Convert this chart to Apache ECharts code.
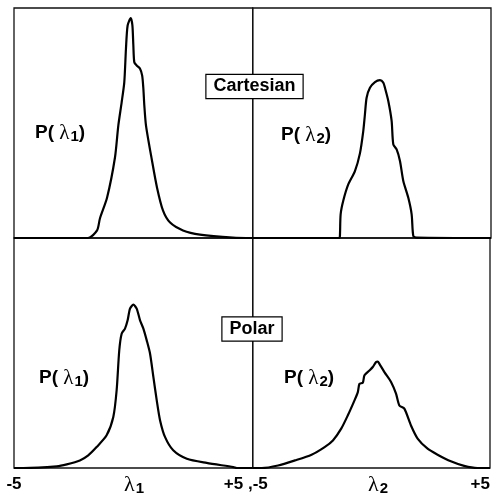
<!DOCTYPE html>
<html>
<head>
<meta charset="utf-8">
<script src="https://cdn.jsdelivr.net/npm/echarts@6/dist/echarts.min.js"></script>
<style>
  html, body { margin: 0; padding: 0; background: #fff; }
  #chart { width: 493px; height: 495px; }
</style>
</head>
<body>
<div id="chart"></div>
<script>
// ---- data ----
const cartesianL1 = [[-5,0],[-1.9,0],[-1.52,3.3],[-1.40,8.5],[-1.10,17.6],[-0.77,35],[-0.63,48.9],[-0.49,59],[-0.38,67.7],[-0.31,82.2],[-0.24,92.4],[-0.11,95.6],[-0.04,92.4],[0.0,83.7],[0.04,76.4],[0.14,75],[0.28,73.6],[0.37,70.6],[0.42,64.9],[0.46,57.6],[0.53,48.9],[0.78,33.7],[0.99,22],[1.24,12],[1.54,6.7],[2.08,3.3],[2.79,1.5],[4.17,0.2],[5,0]];
const cartesianL2 = [[-5,0],[-1.37,0],[-1.34,0.9],[-1.31,10.3],[-1.20,16.2],[-0.99,23.3],[-0.71,29.1],[-0.50,36.8],[-0.36,46.5],[-0.29,53.8],[-0.22,61],[-0.08,65.3],[0.13,67.8],[0.34,68.6],[0.48,67.6],[0.55,65.3],[0.69,59.6],[0.83,50.9],[0.90,40.7],[1.04,38.5],[1.18,33.5],[1.32,24.8],[1.53,17.5],[1.67,10.3],[1.74,0.9],[1.88,0.2],[5,0]];
const polarL1 = [[-5,0],[-4.61,0],[-3.21,0.74],[-2.79,1.6],[-2.24,3.3],[-1.89,5.5],[-1.54,9.1],[-1.12,14.2],[-0.84,22.2],[-0.70,33.8],[-0.59,51.2],[-0.49,58.4],[-0.35,60.6],[-0.24,64.2],[-0.14,69.3],[0.0,71.0],[0.14,69.3],[0.28,64.2],[0.42,60.6],[0.56,55.5],[0.70,49.7],[0.84,39.5],[0.98,29.4],[1.12,20.7],[1.33,13.4],[1.67,7.7],[2.24,4.0],[3.07,2.2],[4.19,0.4],[4.33,0],[5,0]];
const polarL2 = [[-5,0],[-4.62,0],[-3.93,1.1],[-3.22,3.3],[-2.52,5.8],[-1.97,9.1],[-1.62,12.0],[-1.27,17.1],[-0.99,22.9],[-0.71,29.4],[-0.57,33.0],[-0.50,36.6],[-0.36,37.1],[-0.29,40.3],[-0.08,42.4],[0.06,43.9],[0.20,46.1],[0.27,46.3],[0.34,45.3],[0.55,41.7],[0.83,37.4],[1.04,32.3],[1.18,27.2],[1.39,25.8],[1.67,18.5],[1.95,12.8],[2.37,8.4],[2.79,5.8],[3.35,2.9],[3.91,0.9],[4.47,0],[5,0]];
const tickLabelsLeft = ['-5', '+5 ,'];
const tickLabelsRight = ['-5', '+5'];
const xRange = [-5, 5];
const panelTitles = ['Cartesian', 'Polar'];

// ---- chart ----
const sans = 'Liberation Sans, Arial, sans-serif';
const serif = 'Liberation Serif, DejaVu Serif, serif';
const chart = echarts.init(document.getElementById('chart'), null, { renderer: 'canvas' });

const grids = [
  { left: 14, right: 240.3, top: 8, bottom: 257 },
  { left: 252.7, right: 2, top: 8, bottom: 257 },
  { left: 14, right: 240.3, top: 238, bottom: 27 },
  { left: 252.7, right: 2, top: 238, bottom: 27 }
].map(g => Object.assign(g, { show: true, borderColor: '#111', borderWidth: 1.3, backgroundColor: 'transparent', containLabel: false }));

function xAx(i, labels) {
  return {
    type: 'value', gridIndex: i, min: xRange[0], max: xRange[1], interval: 10,
    axisLine: { show: false }, axisTick: { show: false }, splitLine: { show: false },
    axisLabel: labels ? {
      show: true, margin: 8, color: '#000', fontFamily: sans, fontWeight: 'bold', fontSize: 17,
      showMinLabel: true, showMaxLabel: true,
      alignMinLabel: i === 2 ? 'center' : 'left', alignMaxLabel: 'right',
      formatter: v => (v === xRange[0] ? labels[0] : labels[1])
    } : { show: false }
  };
}
function yAx(i) {
  return {
    type: 'value', gridIndex: i, min: 0, max: 100,
    axisLine: { show: false }, axisTick: { show: false }, splitLine: { show: false }, axisLabel: { show: false }
  };
}
function ser(i, data) {
  return {
    type: 'line', xAxisIndex: i, yAxisIndex: i, data: data, smooth: 0.25,
    showSymbol: false, symbol: 'none', clip: false,
    lineStyle: { color: '#000', width: 2.2 }, animation: false, z: 3
  };
}

const richP = {
  b: { fontFamily: sans, fontWeight: 'bold', fontSize: 19, fill: '#000' },
  l: { fontFamily: serif, fontSize: 21, fill: '#000' },
  s: { fontFamily: sans, fontWeight: 'bold', fontSize: 15, fill: '#000', padding: [7, 0, 0, 1] }
};
function pLabel(x, y, sub) {
  return {
    type: 'text', x: x, y: y, z: 10,
    style: { text: '{b|P(}{l| λ}{s|' + sub + '}{b|)}', rich: richP, align: 'left', verticalAlign: 'middle' }
  };
}
function lamLabel(x, y, sub) {
  return {
    type: 'text', x: x, y: y, z: 10,
    style: {
      text: '{l|λ}{s|' + sub + '}',
      rich: {
        l: { fontFamily: serif, fontSize: 22, fill: '#000' },
        s: { fontFamily: sans, fontWeight: 'bold', fontSize: 15, fill: '#000', padding: [7, 0, 0, 1] }
      },
      align: 'center', verticalAlign: 'middle'
    }
  };
}
function boxLabel(x, y, text) {
  return {
    type: 'text', x: x, y: y, z: 20,
    style: {
      text: text, fontFamily: sans, fontWeight: 'bold', fontSize: 18, fill: '#000',
      align: 'center', verticalAlign: 'middle',
      backgroundColor: '#fff', borderColor: '#000', borderWidth: 1.2, padding: [3, 7, 2, 7]
    }
  };
}

chart.setOption({
  animation: false,
  backgroundColor: '#fff',
  grid: grids,
  xAxis: [xAx(0), xAx(1), xAx(2, tickLabelsLeft), xAx(3, tickLabelsRight)],
  yAxis: [yAx(0), yAx(1), yAx(2), yAx(3)],
  series: [ser(0, cartesianL1), ser(1, cartesianL2), ser(2, polarL1), ser(3, polarL2)],
  graphic: [
    boxLabel(254.5, 86.5, panelTitles[0]),
    boxLabel(252, 329, panelTitles[1]),
    pLabel(35, 133, '1'),
    pLabel(39, 378, '1'),
    pLabel(281, 135, '2'),
    pLabel(284, 378, '2'),
    lamLabel(134, 485, '1'),
    lamLabel(378, 485, '2')
  ]
});
</script>
</body>
</html>
